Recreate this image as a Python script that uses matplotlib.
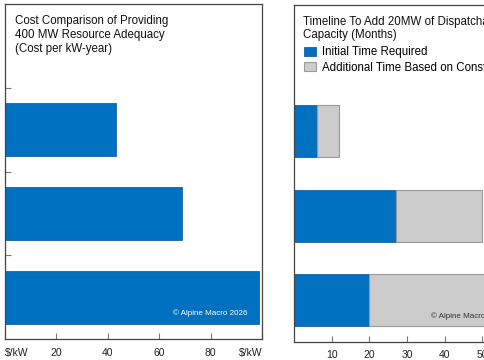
import matplotlib
matplotlib.use("Agg")
import matplotlib.pyplot as plt
from matplotlib.patches import Patch

plt.rcParams['font.family'] = ['Liberation Sans', 'DejaVu Sans']

# ---- data ----
left_title = "Cost Comparison of Providing\n400 MW Resource Adequacy\n(Cost per kW-year)"
cost_values = [43, 69, 99]            # top to bottom
left_ticks = [0, 20, 40, 60, 80, 100]
left_ticklabels = ["$/kW", "20", "40", "60", "80", "$/kW"]

right_title = "Timeline To Add 20MW of Dispatchable\nCapacity (Months)"
initial_time = [6, 27, 20]             # top to bottom
additional_time = [6, 23, 36]
series_names = ["Initial Time Required", "Additional Time Based on Constraints"]
right_ticks = [10, 20, 30, 40, 50, 60]

BLUE = "#0070C0"
GRAY = "#CCCCCC"
SPINE = "#444444"

fig = plt.figure(figsize=(4.85, 3.6), dpi=100)
W, H = 485.0, 360.0

positions = [2, 1, 0]

# ---- left panel ----
axL = fig.add_axes([5 / W, 1 - 339 / H, 257 / W, 335 / H])
axL.barh(positions, cost_values, height=0.63, color=BLUE, edgecolor="#1a62a8", linewidth=0.6)
axL.set_xlim(0, 100)
axL.set_ylim(-0.5, 3.5)
axL.set_xticks(left_ticks)
axL.set_xticklabels(left_ticklabels)
axL.set_yticks([0.5, 1.5, 2.5])
axL.set_yticklabels([])
axL.tick_params(axis='x', direction='in', length=4, width=0.8, color="#777777",
                labelsize=7.5, pad=6.5, labelcolor="#222222")
axL.tick_params(axis='y', direction='in', length=4, width=0.8, color="#777777")
labs = axL.get_xticklabels()
labs[0].set_ha('left')
labs[-1].set_ha('right')
for s in axL.spines.values():
    s.set_color(SPINE)
    s.set_linewidth(0.9)
axL.text(10 / 257, 1 - 11 / 335, left_title, transform=axL.transAxes, ha='left', va='top',
         fontsize=8.3, linespacing=1.22, color="#111111")
axL.text(1 - 14 / 257, 26 / 335, "© Alpine Macro 2026", transform=axL.transAxes,
         ha='right', va='center', fontsize=5.8, color="white")

# ---- right panel ----
axR = fig.add_axes([294 / W, 1 - 342 / H, 226 / W, 337 / H])
axR.barh(positions, initial_time, height=0.62, color=BLUE, edgecolor="#1a62a8", linewidth=0.6,
         label=series_names[0])
axR.barh(positions, additional_time, left=initial_time, height=0.62, color=GRAY,
         edgecolor="#999999", linewidth=0.8, label=series_names[1])
axR.set_xlim(0, 60)
axR.set_ylim(-0.5, 3.5)
axR.set_xticks(right_ticks)
axR.set_yticks([])
axR.tick_params(axis='x', direction='in', length=4, width=0.8, color="#777777",
                labelsize=7.5, pad=5.5, labelcolor="#222222")
for s in axR.spines.values():
    s.set_color(SPINE)
    s.set_linewidth(0.9)
axR.text(9 / 226, 1 - 11 / 337, right_title, transform=axR.transAxes, ha='left', va='top',
         fontsize=8.3, linespacing=1.1, color="#111111")
handles = [Patch(facecolor=BLUE, edgecolor="#1a62a8", linewidth=0.6),
           Patch(facecolor=GRAY, edgecolor="#999999", linewidth=0.8)]
axR.legend(handles, series_names, loc='upper left', bbox_to_anchor=(8 / 226, 1 - 39 / 337),
           frameon=False, fontsize=8.3, handlelength=1.05, handleheight=0.85,
           handletextpad=0.45, labelspacing=0.3, borderaxespad=0, borderpad=0.2)
axR.text(1 - 14 / 226, 26 / 337, "© Alpine Macro 2026", transform=axR.transAxes,
         ha='right', va='center', fontsize=5.8, color="#333333")

fig.savefig("out.png", dpi=100)
